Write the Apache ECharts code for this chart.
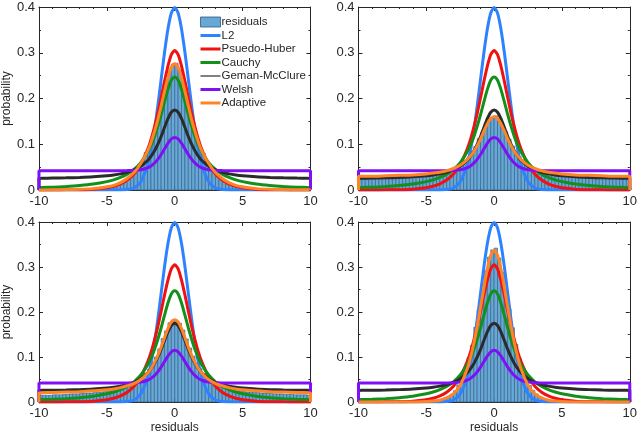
<!DOCTYPE html>
<html>
<head>
<meta charset="utf-8">
<title>residual distributions</title>
<script src="https://cdn.jsdelivr.net/npm/echarts@6/dist/echarts.min.js"></script>
<style>
  html, body { margin: 0; padding: 0; background: #fff; }
  #main { width: 640px; height: 435px; }
</style>
</head>
<body>
<div id="main"></div>
<script>
// x positions where the fitted densities were read (first/last point close the curve at 0)
const CURVE_X = [-10, -10, -9, -8, -7, -6, -5, -4.5, -4, -3.5, -3, -2.5, -2, -1.75, -1.5, -1.25, -1, -0.75, -0.5, -0.25,
  0, 0.25, 0.5, 0.75, 1, 1.25, 1.5, 1.75, 2, 2.5, 3, 3.5, 4, 4.5, 5, 6, 7, 8, 9, 10, 10];

const L2 = [0, 0, 0, 0, 0, 0, 0, 0, 0.0001, 0.0009, 0.0044, 0.018, 0.054, 0.086, 0.130, 0.183, 0.242, 0.301, 0.352, 0.387,
  0.399, 0.387, 0.352, 0.301, 0.242, 0.183, 0.130, 0.086, 0.054, 0.018, 0.0044, 0.0009, 0.0001, 0, 0, 0, 0, 0, 0, 0, 0];
const PSEUDO_HUBER = [0, 0, 0.0001, 0.0003, 0.0007, 0.0019, 0.0051, 0.0082, 0.0134, 0.0218, 0.0351, 0.0561, 0.0886, 0.110, 0.137, 0.167, 0.202, 0.238, 0.271, 0.296,
  0.305, 0.296, 0.271, 0.238, 0.202, 0.167, 0.137, 0.110, 0.0886, 0.0561, 0.0351, 0.0218, 0.0134, 0.0082, 0.0051, 0.0019, 0.0007, 0.0003, 0.0001, 0, 0];
const CAUCHY = [0, 0.0048, 0.0060, 0.0075, 0.0097, 0.0130, 0.0183, 0.0222, 0.0275, 0.0347, 0.0449, 0.0599, 0.0824, 0.0977, 0.116, 0.139, 0.165, 0.193, 0.220, 0.240,
  0.247, 0.240, 0.220, 0.193, 0.165, 0.139, 0.116, 0.0977, 0.0824, 0.0599, 0.0449, 0.0347, 0.0275, 0.0222, 0.0183, 0.0130, 0.0097, 0.0075, 0.0060, 0.0048, 0];
const GEMAN_MCCLURE = [0, 0.0256, 0.0260, 0.0266, 0.0275, 0.0289, 0.0312, 0.0329, 0.0353, 0.0388, 0.0438, 0.0517, 0.0644, 0.0736, 0.0852, 0.0998, 0.117, 0.137, 0.156, 0.170,
  0.175, 0.170, 0.156, 0.137, 0.117, 0.0998, 0.0852, 0.0736, 0.0644, 0.0517, 0.0438, 0.0388, 0.0353, 0.0329, 0.0312, 0.0289, 0.0275, 0.0266, 0.0260, 0.0256, 0];
const WELSH = [0, 0.0423, 0.0423, 0.0423, 0.0423, 0.0423, 0.0423, 0.0423, 0.0423, 0.0424, 0.0428, 0.0442, 0.0484, 0.0525, 0.0586, 0.0669, 0.0776, 0.090, 0.1022, 0.1115,
  0.115, 0.1115, 0.1022, 0.090, 0.0776, 0.0669, 0.0586, 0.0525, 0.0484, 0.0442, 0.0428, 0.0424, 0.0423, 0.0423, 0.0423, 0.0423, 0.0423, 0.0423, 0.0423, 0.0423, 0];

// adaptive fit, one per panel
const ADAPTIVE_1 = [0, 0.0003, 0.0005, 0.001, 0.0015, 0.003, 0.007, 0.010, 0.016, 0.025, 0.038, 0.058, 0.085, 0.104, 0.127, 0.153, 0.184, 0.216, 0.246, 0.268,
  0.276, 0.268, 0.246, 0.216, 0.184, 0.153, 0.127, 0.104, 0.085, 0.058, 0.038, 0.025, 0.016, 0.010, 0.007, 0.003, 0.0015, 0.001, 0.0005, 0.0003, 0];
const ADAPTIVE_2 = [0, 0.030, 0.030, 0.031, 0.032, 0.033, 0.035, 0.037, 0.039, 0.042, 0.047, 0.054, 0.066, 0.074, 0.084, 0.097, 0.112, 0.129, 0.145, 0.156,
  0.160, 0.156, 0.145, 0.129, 0.112, 0.097, 0.084, 0.074, 0.066, 0.054, 0.047, 0.042, 0.039, 0.037, 0.035, 0.033, 0.032, 0.031, 0.030, 0.030, 0];
const ADAPTIVE_3 = [0, 0.020, 0.021, 0.022, 0.023, 0.025, 0.027, 0.029, 0.032, 0.036, 0.041, 0.050, 0.064, 0.074, 0.087, 0.103, 0.122, 0.143, 0.163, 0.178,
  0.183, 0.178, 0.163, 0.143, 0.122, 0.103, 0.087, 0.074, 0.064, 0.050, 0.041, 0.036, 0.032, 0.029, 0.027, 0.025, 0.023, 0.022, 0.021, 0.020, 0];
const ADAPTIVE_4 = [0, 0, 0, 0, 0, 0, 0.001, 0.002, 0.004, 0.009, 0.018, 0.037, 0.072, 0.098, 0.130, 0.168, 0.211, 0.255, 0.296, 0.326,
  0.337, 0.326, 0.296, 0.255, 0.211, 0.168, 0.130, 0.098, 0.072, 0.037, 0.018, 0.009, 0.004, 0.002, 0.001, 0, 0, 0, 0, 0, 0];

// histogram of residuals, 80 bins of 0.25 from -10 to 10
const BIN_WIDTH = 0.25;
const HIST_1 = [0, 0, 0.001, 0, 0, 0.001, 0, 0.001, 0.001, 0.001, 0.001, 0.001, 0.001, 0.001, 0.002, 0.002, 0.002, 0.003, 0.003, 0.004,
  0.005, 0.006, 0.007, 0.010, 0.012, 0.016, 0.023, 0.029, 0.037, 0.047, 0.060, 0.082, 0.092, 0.114, 0.140, 0.168, 0.200, 0.235, 0.260, 0.275,
  0.277, 0.262, 0.232, 0.198, 0.170, 0.138, 0.112, 0.090, 0.080, 0.062, 0.048, 0.038, 0.030, 0.022, 0.017, 0.013, 0.010, 0.008, 0.006, 0.005,
  0.004, 0.004, 0.003, 0.003, 0.002, 0.002, 0.002, 0.002, 0.001, 0.001, 0.001, 0.001, 0.001, 0.001, 0.001, 0.001, 0.001, 0, 0.001, 0];
const HIST_2 = [0.024, 0.024, 0.024, 0.024, 0.024, 0.025, 0.025, 0.025, 0.025, 0.026, 0.026, 0.026, 0.027, 0.027, 0.027, 0.028, 0.028, 0.029, 0.029, 0.030,
  0.030, 0.032, 0.032, 0.034, 0.035, 0.038, 0.040, 0.042, 0.046, 0.052, 0.057, 0.065, 0.072, 0.084, 0.095, 0.112, 0.126, 0.143, 0.153, 0.158,
  0.162, 0.155, 0.142, 0.127, 0.111, 0.096, 0.083, 0.073, 0.066, 0.058, 0.051, 0.047, 0.043, 0.040, 0.037, 0.036, 0.034, 0.033, 0.031, 0.031,
  0.030, 0.030, 0.029, 0.029, 0.028, 0.028, 0.028, 0.027, 0.027, 0.027, 0.026, 0.026, 0.026, 0.026, 0.025, 0.025, 0.025, 0.025, 0.025, 0.024];
const HIST_3 = [0.015, 0.015, 0.015, 0.015, 0.016, 0.016, 0.016, 0.017, 0.017, 0.018, 0.018, 0.018, 0.019, 0.019, 0.020, 0.020, 0.021, 0.021, 0.022, 0.023,
  0.025, 0.033, 0.026, 0.027, 0.028, 0.030, 0.034, 0.036, 0.042, 0.046, 0.055, 0.064, 0.073, 0.088, 0.100, 0.118, 0.141, 0.158, 0.176, 0.182,
  0.180, 0.175, 0.160, 0.140, 0.120, 0.102, 0.087, 0.074, 0.063, 0.054, 0.047, 0.041, 0.037, 0.033, 0.031, 0.029, 0.027, 0.026, 0.025, 0.024,
  0.023, 0.022, 0.022, 0.021, 0.021, 0.020, 0.020, 0.019, 0.019, 0.018, 0.018, 0.018, 0.017, 0.017, 0.017, 0.016, 0.016, 0.016, 0.016, 0.015];
const HIST_4 = [0, 0, 0, 0, 0, 0, 0, 0, 0, 0, 0, 0, 0, 0.001, 0, 0.001, 0.001, 0.001, 0.001, 0.001,
  0.002, 0.002, 0.003, 0.004, 0.005, 0.009, 0.012, 0.017, 0.025, 0.038, 0.052, 0.071, 0.098, 0.126, 0.166, 0.205, 0.252, 0.292, 0.322, 0.338,
  0.342, 0.320, 0.288, 0.250, 0.207, 0.165, 0.128, 0.097, 0.072, 0.053, 0.037, 0.026, 0.018, 0.012, 0.008, 0.006, 0.004, 0.003, 0.002, 0.002,
  0.001, 0.001, 0.001, 0.001, 0.001, 0.001, 0, 0.001, 0, 0, 0, 0, 0, 0, 0, 0, 0, 0, 0, 0];

const HISTS = [HIST_1, HIST_2, HIST_3, HIST_4];
const ADAPTIVES = [ADAPTIVE_1, ADAPTIVE_2, ADAPTIVE_3, ADAPTIVE_4];

const X_TICKS = [-10, -5, 0, 5, 10];
const Y_TICKS = [0, 0.1, 0.2, 0.3, 0.4];

const CURVES = [
  { name: 'L2', data: L2, color: '#2e82ff' },
  { name: 'Psuedo-Huber', data: PSEUDO_HUBER, color: '#f01212' },
  { name: 'Cauchy', data: CAUCHY, color: '#12901a' },
  { name: 'Geman-McClure', data: GEMAN_MCCLURE, color: '#2b2b2b' },
  { name: 'Welsh', data: WELSH, color: '#7f10f5' },
];
const ADAPTIVE_COLOR = '#ff8426';

// plot boxes [left, top, width, height]
const BOXES = [
  [37.5, 7, 273, 183],
  [358.5, 7, 273, 183],
  [37.5, 222, 273, 182],
  [358.5, 222, 273, 182],
];

const FONT = 'Liberation Sans, Arial, sans-serif';
const INK = '#262626';

let myChart = echarts.init(document.getElementById('main'));

function pairs(xs, ys) {
  return xs.map((x, i) => [x, ys[i]]);
}

function lineSeries(name, data, color, p) {
  return {
    type: 'line', name: name, xAxisIndex: p * 2, yAxisIndex: p * 2,
    data: pairs(CURVE_X, data), symbol: 'line', showSymbol: false, smooth: 0.25,
    lineStyle: { color: color, width: 3 }, itemStyle: { color: color },
  };
}

function buildOption() {
  let grid = [], xAxis = [], yAxis = [], series = [];
  for (let p = 0; p < 4; p++) {
    const b = BOXES[p];
    grid.push({ left: b[0], top: b[1], width: b[2], height: b[3], show: false });
    const bottomRow = p >= 2;
    const leftCol = p % 2 === 0;
    for (let side of ['bottom', 'top']) {
      xAxis.push({
        type: 'value', gridIndex: p, position: side, min: X_TICKS[0], max: X_TICKS[X_TICKS.length - 1], interval: 5,
        name: (side === 'bottom' && bottomRow) ? 'residuals' : '',
        nameLocation: 'middle', nameGap: 20,
        nameTextStyle: { fontFamily: FONT, fontSize: 12, color: INK },
        axisLine: { show: true, onZero: false, lineStyle: { color: INK, width: 1 } },
        axisTick: { show: true, inside: true, length: 4, lineStyle: { color: INK } },
        minorTick: { show: true, splitNumber: 5, length: 2, lineStyle: { color: INK } },
        axisLabel: { show: side === 'bottom', fontFamily: FONT, fontSize: 13, color: INK, margin: 5 },
        splitLine: { show: false },
      });
    }
    for (let side of ['left', 'right']) {
      yAxis.push({
        type: 'value', gridIndex: p, position: side, min: Y_TICKS[0], max: Y_TICKS[Y_TICKS.length - 1], interval: 0.1,
        name: (side === 'left' && leftCol) ? 'probability' : '',
        nameLocation: 'middle', nameGap: 24,
        nameTextStyle: { fontFamily: FONT, fontSize: 12, color: INK },
        axisLine: { show: true, onZero: false, lineStyle: { color: INK, width: 1 } },
        axisTick: { show: true, inside: true, length: 4, lineStyle: { color: INK } },
        minorTick: { show: true, splitNumber: 2, length: 2, lineStyle: { color: INK } },
        axisLabel: { show: side === 'left', fontFamily: FONT, fontSize: 13, color: INK, margin: 4 },
        splitLine: { show: false },
      });
    }
    series.push({
      type: 'custom', name: 'residuals', xAxisIndex: p * 2, yAxisIndex: p * 2,
      data: HISTS[p].map((v, i) => [-10 + BIN_WIDTH * (i + 0.5), v]),
      itemStyle: { color: '#66a9d9' },
      renderItem: function (params, api) {
        const x = api.value(0), y = api.value(1);
        const a = api.coord([x - BIN_WIDTH / 2, y]);
        const c = api.coord([x + BIN_WIDTH / 2, 0]);
        return {
          type: 'rect',
          shape: { x: a[0], y: a[1], width: c[0] - a[0], height: c[1] - a[1] },
          style: { fill: '#66a9d9', stroke: '#34597c', lineWidth: 0.6 },
        };
      },
    });
    for (let c of CURVES) {
      series.push(lineSeries(c.name, c.data, c.color, p));
    }
    series.push(lineSeries('Adaptive', ADAPTIVES[p], ADAPTIVE_COLOR, p));
  }
  const legendData = [
    { name: 'residuals', icon: 'rect', itemStyle: { color: '#66a9d9', borderColor: '#34597c', borderWidth: 0.8 } },
  ].concat(CURVES.concat([{ name: 'Adaptive' }]).map(c => ({
      name: c.name,
      itemStyle: { opacity: 0 },
      lineStyle: { width: c.name === 'Geman-McClure' ? 1.2 : 3 },
    })));
  return {
    animation: false,
    backgroundColor: '#fff',
    grid: grid, xAxis: xAxis, yAxis: yAxis, series: series,
    legend: {
      data: legendData, orient: 'vertical', left: 194, top: 11,
      itemWidth: 20, itemHeight: 10, itemGap: 1.5,
      textStyle: { fontFamily: FONT, fontSize: 11.5, color: INK, padding: [0, 0, 0, -4] },
    },
  };
}

myChart.setOption(buildOption());
</script>
</body>
</html>
